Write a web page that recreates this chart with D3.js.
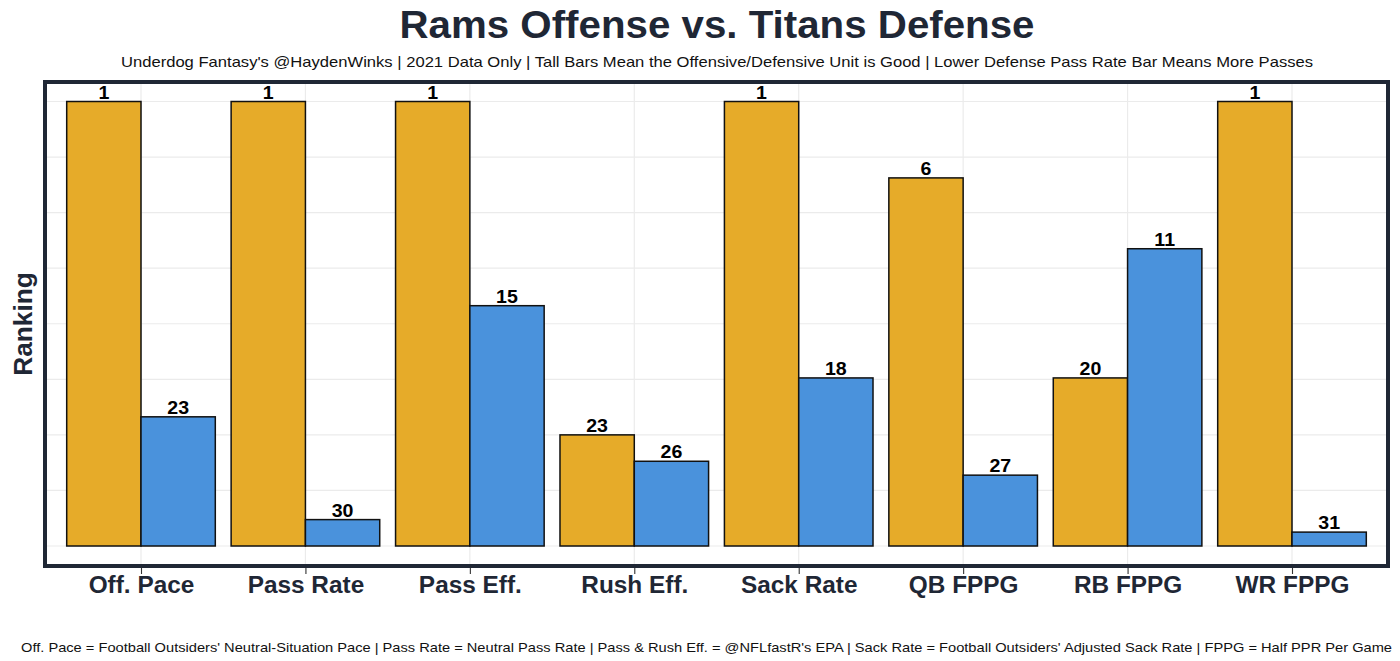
<!DOCTYPE html>
<html>
<head>
<meta charset="utf-8">
<script src="https://cdn.jsdelivr.net/npm/d3@7"></script>
<style>
  html, body { margin: 0; padding: 0; background: #ffffff; }
  svg { display: block; font-family: "Liberation Sans", Arial, Helvetica, sans-serif; }
</style>
</head>
<body>
<svg id="chart" width="1400" height="661"></svg>
<script>
// ---- data ----
const categories = ["Off. Pace", "Pass Rate", "Pass Eff.", "Rush Eff.", "Sack Rate", "QB FPPG", "RB FPPG", "WR FPPG"];
const series = ["Rams Offense", "Titans Defense"];
// rank labels shown on bars
const ramsRank   = [1, 1, 1, 23, 1, 6, 20, 1];
const titansRank = [23, 30, 15, 26, 18, 27, 11, 31];
// plotted bar heights (0-32 scale, 32 = best)
const ramsBar   = [32, 32, 32, 8.0, 32, 26.5, 12.1, 32];
const titansBar = [9.3, 1.9, 17.3, 6.1, 12.1, 5.1, 21.4, 1.0];
const gridTicks = [0, 4, 8, 12, 16, 20, 24, 28, 32];

const titleText = "Rams Offense vs. Titans Defense";
const subtitleText = "Underdog Fantasy's @HaydenWinks | 2021 Data Only | Tall Bars Mean the Offensive/Defensive Unit is Good | Lower Defense Pass Rate Bar Means More Passes";
const captionText = "Off. Pace = Football Outsiders' Neutral-Situation Pace | Pass Rate = Neutral Pass Rate | Pass & Rush Eff. = @NFLfastR's EPA | Sack Rate = Football Outsiders' Adjusted Sack Rate | FPPG = Half PPR Per Game";
const yTitle = "Ranking";

const colors = ["#E6AB29", "#4A92DC"];
const dark = "#1F2735";

// ---- helpers ----
function stretch(sel, f) {
  sel.each(function () {
    const L = this.getComputedTextLength();
    d3.select(this).attr("textLength", L * f).attr("lengthAdjust", "spacingAndGlyphs");
  });
}

// ---- layout ----
const svg = d3.select("#chart");
const panel = { x0: 45, x1: 1388, y0: 82, y1: 566 };

const x = d3.scalePoint().domain(categories).range([141, 1292]);
const barW = 74.3;
const y = d3.scaleLinear().domain([0, 32]).range([546, 101.5]);

// panel background
svg.append("rect")
  .attr("x", panel.x0).attr("y", panel.y0)
  .attr("width", panel.x1 - panel.x0).attr("height", panel.y1 - panel.y0)
  .attr("fill", "#ffffff");

// gridlines
const grid = svg.append("g");
grid.selectAll("line.h").data(gridTicks).join("line")
  .attr("x1", panel.x0).attr("x2", panel.x1)
  .attr("y1", d => y(d)).attr("y2", d => y(d))
  .attr("stroke", "#EBEBEB").attr("stroke-width", 1.2);
grid.selectAll("line.v").data(categories).join("line")
  .attr("x1", d => x(d)).attr("x2", d => x(d))
  .attr("y1", panel.y0).attr("y2", panel.y1)
  .attr("stroke", "#EBEBEB").attr("stroke-width", 1.2);

// bars
const rows = categories.map((c, i) => ({
  cat: c,
  vals: [
    { s: 0, h: ramsBar[i], r: ramsRank[i] },
    { s: 1, h: titansBar[i], r: titansRank[i] }
  ]
}));
const flat = rows.flatMap(r => r.vals.map(v => ({ cat: r.cat, ...v })));

svg.append("g").selectAll("rect").data(flat).join("rect")
  .attr("x", d => x(d.cat) + (d.s === 0 ? -barW : 0))
  .attr("y", d => y(d.h))
  .attr("width", barW)
  .attr("height", d => y(0) - y(d.h))
  .attr("fill", d => colors[d.s])
  .attr("stroke", "#111111")
  .attr("stroke-width", 1.5);

const barLabels = svg.append("g").selectAll("text").data(flat).join("text")
  .attr("x", d => x(d.cat) + (d.s === 0 ? -barW / 2 : barW / 2))
  .attr("y", d => y(d.h) - 3)
  .attr("text-anchor", "middle")
  .attr("font-size", 19)
  .attr("font-weight", "bold")
  .attr("fill", "#000000")
  .text(d => d.r);
stretch(barLabels, 1.03);

// panel border
svg.append("rect")
  .attr("x", panel.x0).attr("y", panel.y0)
  .attr("width", panel.x1 - panel.x0).attr("height", panel.y1 - panel.y0)
  .attr("fill", "none").attr("stroke", dark).attr("stroke-width", 4);

// x axis
const xAxis = d3.axisBottom(x).tickSize(6).tickPadding(3);
const gx = svg.append("g").attr("transform", `translate(0,${panel.y1 + 2})`).call(xAxis);
gx.select(".domain").remove();
gx.selectAll(".tick line").attr("stroke", "#333333").attr("stroke-width", 1.1);
gx.selectAll(".tick text")
  .attr("dy", null)
  .attr("y", 25)
  .attr("font-size", 23).attr("font-weight", "bold").attr("fill", dark)
  .attr("font-family", "'Liberation Sans', Arial, sans-serif");
stretch(gx.selectAll(".tick text"), 1.06);

// titles
const t = svg.append("text")
  .attr("x", 717).attr("y", 38)
  .attr("text-anchor", "middle")
  .attr("font-size", 38).attr("font-weight", "bold").attr("fill", dark)
  .text(titleText);
stretch(t, 1.06);

svg.append("text")
  .attr("x", 717).attr("y", 67)
  .attr("text-anchor", "middle")
  .attr("font-size", 15).attr("fill", "#111111")
  .attr("textLength", 1192).attr("lengthAdjust", "spacingAndGlyphs")
  .text(subtitleText);

const yt = svg.append("text")
  .attr("transform", "translate(32,324) rotate(-90)")
  .attr("text-anchor", "middle")
  .attr("font-size", 25).attr("font-weight", "bold").attr("fill", dark)
  .text(yTitle);
stretch(yt, 1.05);

svg.append("text")
  .attr("x", 21).attr("y", 652)
  .attr("text-anchor", "start")
  .attr("font-size", 13).attr("fill", "#111111")
  .attr("textLength", 1371).attr("lengthAdjust", "spacingAndGlyphs")
  .text(captionText);
</script>
</body>
</html>
